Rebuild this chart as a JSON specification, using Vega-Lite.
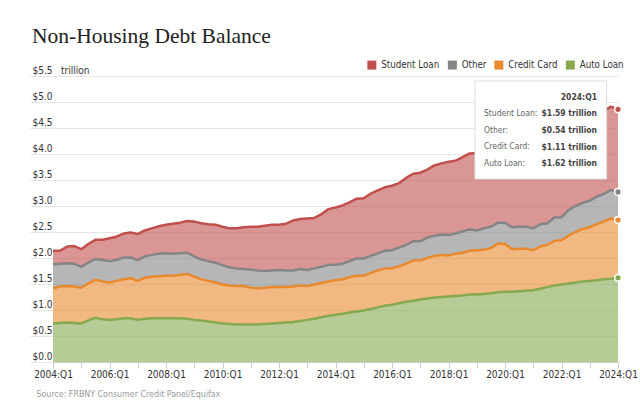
{
"$schema": "https://vega.github.io/schema/vega-lite/v6.json",
"autosize": {"type": "none"},
"width": 565,
"height": 286,
"padding": {"left": 53, "top": 76, "right": 22, "bottom": 46},
"background": "white",
"config": {"view": {"stroke": null}, "font": "DejaVu Sans Condensed, Liberation Sans, sans-serif"},
"title": {"text": "Non-Housing Debt Balance", "anchor": "start", "frame": "group", "font": "Liberation Serif", "fontSize": 21.5, "fontWeight": "normal", "color": "#222222", "baseline": "alphabetic", "dx": -21, "dy": 24, "offset": 20},
"layer": [
{
"data": {"values": [
{"date":"2004-01-01","series":"Auto Loan","value":0.74},{"date":"2004-01-01","series":"Credit Card","value":0.68},{"date":"2004-01-01","series":"Other","value":0.46},{"date":"2004-01-01","series":"Student Loan","value":0.26},
{"date":"2004-04-01","series":"Auto Loan","value":0.75},{"date":"2004-04-01","series":"Credit Card","value":0.70},{"date":"2004-04-01","series":"Other","value":0.44},{"date":"2004-04-01","series":"Student Loan","value":0.25},
{"date":"2004-07-01","series":"Auto Loan","value":0.76},{"date":"2004-07-01","series":"Credit Card","value":0.70},{"date":"2004-07-01","series":"Other","value":0.44},{"date":"2004-07-01","series":"Student Loan","value":0.32},
{"date":"2004-10-01","series":"Auto Loan","value":0.75},{"date":"2004-10-01","series":"Credit Card","value":0.70},{"date":"2004-10-01","series":"Other","value":0.44},{"date":"2004-10-01","series":"Student Loan","value":0.34},
{"date":"2005-01-01","series":"Auto Loan","value":0.74},{"date":"2005-01-01","series":"Credit Card","value":0.69},{"date":"2005-01-01","series":"Other","value":0.40},{"date":"2005-01-01","series":"Student Loan","value":0.34},
{"date":"2005-04-01","series":"Auto Loan","value":0.80},{"date":"2005-04-01","series":"Credit Card","value":0.71},{"date":"2005-04-01","series":"Other","value":0.40},{"date":"2005-04-01","series":"Student Loan","value":0.36},
{"date":"2005-07-01","series":"Auto Loan","value":0.85},{"date":"2005-07-01","series":"Credit Card","value":0.73},{"date":"2005-07-01","series":"Other","value":0.40},{"date":"2005-07-01","series":"Student Loan","value":0.37},
{"date":"2005-10-01","series":"Auto Loan","value":0.82},{"date":"2005-10-01","series":"Credit Card","value":0.73},{"date":"2005-10-01","series":"Other","value":0.41},{"date":"2005-10-01","series":"Student Loan","value":0.39},
{"date":"2006-01-01","series":"Auto Loan","value":0.81},{"date":"2006-01-01","series":"Credit Card","value":0.72},{"date":"2006-01-01","series":"Other","value":0.41},{"date":"2006-01-01","series":"Student Loan","value":0.44},
{"date":"2006-04-01","series":"Auto Loan","value":0.82},{"date":"2006-04-01","series":"Credit Card","value":0.74},{"date":"2006-04-01","series":"Other","value":0.40},{"date":"2006-04-01","series":"Student Loan","value":0.45},
{"date":"2006-07-01","series":"Auto Loan","value":0.84},{"date":"2006-07-01","series":"Credit Card","value":0.75},{"date":"2006-07-01","series":"Other","value":0.42},{"date":"2006-07-01","series":"Student Loan","value":0.46},
{"date":"2006-10-01","series":"Auto Loan","value":0.84},{"date":"2006-10-01","series":"Credit Card","value":0.77},{"date":"2006-10-01","series":"Other","value":0.40},{"date":"2006-10-01","series":"Student Loan","value":0.48},
{"date":"2007-01-01","series":"Auto Loan","value":0.81},{"date":"2007-01-01","series":"Credit Card","value":0.75},{"date":"2007-01-01","series":"Other","value":0.40},{"date":"2007-01-01","series":"Student Loan","value":0.50},
{"date":"2007-04-01","series":"Auto Loan","value":0.83},{"date":"2007-04-01","series":"Credit Card","value":0.79},{"date":"2007-04-01","series":"Other","value":0.41},{"date":"2007-04-01","series":"Student Loan","value":0.50},
{"date":"2007-07-01","series":"Auto Loan","value":0.84},{"date":"2007-07-01","series":"Credit Card","value":0.80},{"date":"2007-07-01","series":"Other","value":0.42},{"date":"2007-07-01","series":"Student Loan","value":0.51},
{"date":"2007-10-01","series":"Auto Loan","value":0.84},{"date":"2007-10-01","series":"Credit Card","value":0.81},{"date":"2007-10-01","series":"Other","value":0.43},{"date":"2007-10-01","series":"Student Loan","value":0.53},
{"date":"2008-01-01","series":"Auto Loan","value":0.84},{"date":"2008-01-01","series":"Credit Card","value":0.82},{"date":"2008-01-01","series":"Other","value":0.43},{"date":"2008-01-01","series":"Student Loan","value":0.55},
{"date":"2008-04-01","series":"Auto Loan","value":0.84},{"date":"2008-04-01","series":"Credit Card","value":0.82},{"date":"2008-04-01","series":"Other","value":0.42},{"date":"2008-04-01","series":"Student Loan","value":0.58},
{"date":"2008-07-01","series":"Auto Loan","value":0.84},{"date":"2008-07-01","series":"Credit Card","value":0.84},{"date":"2008-07-01","series":"Other","value":0.41},{"date":"2008-07-01","series":"Student Loan","value":0.59},
{"date":"2008-10-01","series":"Auto Loan","value":0.83},{"date":"2008-10-01","series":"Credit Card","value":0.86},{"date":"2008-10-01","series":"Other","value":0.41},{"date":"2008-10-01","series":"Student Loan","value":0.61},
{"date":"2009-01-01","series":"Auto Loan","value":0.81},{"date":"2009-01-01","series":"Credit Card","value":0.83},{"date":"2009-01-01","series":"Other","value":0.39},{"date":"2009-01-01","series":"Student Loan","value":0.67},
{"date":"2009-04-01","series":"Auto Loan","value":0.80},{"date":"2009-04-01","series":"Credit Card","value":0.79},{"date":"2009-04-01","series":"Other","value":0.38},{"date":"2009-04-01","series":"Student Loan","value":0.70},
{"date":"2009-07-01","series":"Auto Loan","value":0.78},{"date":"2009-07-01","series":"Credit Card","value":0.78},{"date":"2009-07-01","series":"Other","value":0.38},{"date":"2009-07-01","series":"Student Loan","value":0.71},
{"date":"2009-10-01","series":"Auto Loan","value":0.76},{"date":"2009-10-01","series":"Credit Card","value":0.77},{"date":"2009-10-01","series":"Other","value":0.38},{"date":"2009-10-01","series":"Student Loan","value":0.73},
{"date":"2010-01-01","series":"Auto Loan","value":0.74},{"date":"2010-01-01","series":"Credit Card","value":0.75},{"date":"2010-01-01","series":"Other","value":0.37},{"date":"2010-01-01","series":"Student Loan","value":0.74},
{"date":"2010-04-01","series":"Auto Loan","value":0.73},{"date":"2010-04-01","series":"Credit Card","value":0.74},{"date":"2010-04-01","series":"Other","value":0.35},{"date":"2010-04-01","series":"Student Loan","value":0.75},
{"date":"2010-07-01","series":"Auto Loan","value":0.72},{"date":"2010-07-01","series":"Credit Card","value":0.74},{"date":"2010-07-01","series":"Other","value":0.34},{"date":"2010-07-01","series":"Student Loan","value":0.77},
{"date":"2010-10-01","series":"Auto Loan","value":0.72},{"date":"2010-10-01","series":"Credit Card","value":0.74},{"date":"2010-10-01","series":"Other","value":0.33},{"date":"2010-10-01","series":"Student Loan","value":0.80},
{"date":"2011-01-01","series":"Auto Loan","value":0.72},{"date":"2011-01-01","series":"Credit Card","value":0.71},{"date":"2011-01-01","series":"Other","value":0.35},{"date":"2011-01-01","series":"Student Loan","value":0.82},
{"date":"2011-04-01","series":"Auto Loan","value":0.72},{"date":"2011-04-01","series":"Credit Card","value":0.70},{"date":"2011-04-01","series":"Other","value":0.34},{"date":"2011-04-01","series":"Student Loan","value":0.84},
{"date":"2011-07-01","series":"Auto Loan","value":0.73},{"date":"2011-07-01","series":"Credit Card","value":0.70},{"date":"2011-07-01","series":"Other","value":0.32},{"date":"2011-07-01","series":"Student Loan","value":0.87},
{"date":"2011-10-01","series":"Auto Loan","value":0.74},{"date":"2011-10-01","series":"Credit Card","value":0.70},{"date":"2011-10-01","series":"Other","value":0.32},{"date":"2011-10-01","series":"Student Loan","value":0.88},
{"date":"2012-01-01","series":"Auto Loan","value":0.75},{"date":"2012-01-01","series":"Credit Card","value":0.69},{"date":"2012-01-01","series":"Other","value":0.33},{"date":"2012-01-01","series":"Student Loan","value":0.87},
{"date":"2012-04-01","series":"Auto Loan","value":0.76},{"date":"2012-04-01","series":"Credit Card","value":0.68},{"date":"2012-04-01","series":"Other","value":0.32},{"date":"2012-04-01","series":"Student Loan","value":0.90},
{"date":"2012-07-01","series":"Auto Loan","value":0.77},{"date":"2012-07-01","series":"Credit Card","value":0.68},{"date":"2012-07-01","series":"Other","value":0.31},{"date":"2012-07-01","series":"Student Loan","value":0.96},
{"date":"2012-10-01","series":"Auto Loan","value":0.79},{"date":"2012-10-01","series":"Credit Card","value":0.68},{"date":"2012-10-01","series":"Other","value":0.32},{"date":"2012-10-01","series":"Student Loan","value":0.96},
{"date":"2013-01-01","series":"Auto Loan","value":0.81},{"date":"2013-01-01","series":"Credit Card","value":0.65},{"date":"2013-01-01","series":"Other","value":0.31},{"date":"2013-01-01","series":"Student Loan","value":0.99},
{"date":"2013-04-01","series":"Auto Loan","value":0.83},{"date":"2013-04-01","series":"Credit Card","value":0.66},{"date":"2013-04-01","series":"Other","value":0.31},{"date":"2013-04-01","series":"Student Loan","value":0.97},
{"date":"2013-07-01","series":"Auto Loan","value":0.86},{"date":"2013-07-01","series":"Credit Card","value":0.66},{"date":"2013-07-01","series":"Other","value":0.31},{"date":"2013-07-01","series":"Student Loan","value":1.01},
{"date":"2013-10-01","series":"Auto Loan","value":0.89},{"date":"2013-10-01","series":"Credit Card","value":0.66},{"date":"2013-10-01","series":"Other","value":0.32},{"date":"2013-10-01","series":"Student Loan","value":1.07},
{"date":"2014-01-01","series":"Auto Loan","value":0.91},{"date":"2014-01-01","series":"Credit Card","value":0.66},{"date":"2014-01-01","series":"Other","value":0.30},{"date":"2014-01-01","series":"Student Loan","value":1.10},
{"date":"2014-04-01","series":"Auto Loan","value":0.93},{"date":"2014-04-01","series":"Credit Card","value":0.66},{"date":"2014-04-01","series":"Other","value":0.30},{"date":"2014-04-01","series":"Student Loan","value":1.12},
{"date":"2014-07-01","series":"Auto Loan","value":0.95},{"date":"2014-07-01","series":"Credit Card","value":0.68},{"date":"2014-07-01","series":"Other","value":0.31},{"date":"2014-07-01","series":"Student Loan","value":1.13},
{"date":"2014-10-01","series":"Auto Loan","value":0.97},{"date":"2014-10-01","series":"Credit Card","value":0.69},{"date":"2014-10-01","series":"Other","value":0.33},{"date":"2014-10-01","series":"Student Loan","value":1.15},
{"date":"2015-01-01","series":"Auto Loan","value":0.99},{"date":"2015-01-01","series":"Credit Card","value":0.67},{"date":"2015-01-01","series":"Other","value":0.33},{"date":"2015-01-01","series":"Student Loan","value":1.16},
{"date":"2015-04-01","series":"Auto Loan","value":1.02},{"date":"2015-04-01","series":"Credit Card","value":0.69},{"date":"2015-04-01","series":"Other","value":0.33},{"date":"2015-04-01","series":"Student Loan","value":1.20},
{"date":"2015-07-01","series":"Auto Loan","value":1.05},{"date":"2015-07-01","series":"Credit Card","value":0.71},{"date":"2015-07-01","series":"Other","value":0.33},{"date":"2015-07-01","series":"Student Loan","value":1.21},
{"date":"2015-10-01","series":"Auto Loan","value":1.08},{"date":"2015-10-01","series":"Credit Card","value":0.72},{"date":"2015-10-01","series":"Other","value":0.34},{"date":"2015-10-01","series":"Student Loan","value":1.22},
{"date":"2016-01-01","series":"Auto Loan","value":1.10},{"date":"2016-01-01","series":"Credit Card","value":0.70},{"date":"2016-01-01","series":"Other","value":0.35},{"date":"2016-01-01","series":"Student Loan","value":1.24},
{"date":"2016-04-01","series":"Auto Loan","value":1.13},{"date":"2016-04-01","series":"Credit Card","value":0.71},{"date":"2016-04-01","series":"Other","value":0.36},{"date":"2016-04-01","series":"Student Loan","value":1.24},
{"date":"2016-07-01","series":"Auto Loan","value":1.16},{"date":"2016-07-01","series":"Credit Card","value":0.73},{"date":"2016-07-01","series":"Other","value":0.36},{"date":"2016-07-01","series":"Student Loan","value":1.29},
{"date":"2016-10-01","series":"Auto Loan","value":1.18},{"date":"2016-10-01","series":"Credit Card","value":0.77},{"date":"2016-10-01","series":"Other","value":0.37},{"date":"2016-10-01","series":"Student Loan","value":1.30},
{"date":"2017-01-01","series":"Auto Loan","value":1.20},{"date":"2017-01-01","series":"Credit Card","value":0.75},{"date":"2017-01-01","series":"Other","value":0.37},{"date":"2017-01-01","series":"Student Loan","value":1.32},
{"date":"2017-04-01","series":"Auto Loan","value":1.22},{"date":"2017-04-01","series":"Credit Card","value":0.78},{"date":"2017-04-01","series":"Other","value":0.39},{"date":"2017-04-01","series":"Student Loan","value":1.31},
{"date":"2017-07-01","series":"Auto Loan","value":1.24},{"date":"2017-07-01","series":"Credit Card","value":0.80},{"date":"2017-07-01","series":"Other","value":0.39},{"date":"2017-07-01","series":"Student Loan","value":1.35},
{"date":"2017-10-01","series":"Auto Loan","value":1.25},{"date":"2017-10-01","series":"Credit Card","value":0.81},{"date":"2017-10-01","series":"Other","value":0.39},{"date":"2017-10-01","series":"Student Loan","value":1.37},
{"date":"2018-01-01","series":"Auto Loan","value":1.26},{"date":"2018-01-01","series":"Credit Card","value":0.79},{"date":"2018-01-01","series":"Other","value":0.39},{"date":"2018-01-01","series":"Student Loan","value":1.41},
{"date":"2018-04-01","series":"Auto Loan","value":1.27},{"date":"2018-04-01","series":"Credit Card","value":0.81},{"date":"2018-04-01","series":"Other","value":0.39},{"date":"2018-04-01","series":"Student Loan","value":1.40},
{"date":"2018-07-01","series":"Auto Loan","value":1.28},{"date":"2018-07-01","series":"Credit Card","value":0.82},{"date":"2018-07-01","series":"Other","value":0.41},{"date":"2018-07-01","series":"Student Loan","value":1.43},
{"date":"2018-10-01","series":"Auto Loan","value":1.30},{"date":"2018-10-01","series":"Credit Card","value":0.84},{"date":"2018-10-01","series":"Other","value":0.41},{"date":"2018-10-01","series":"Student Loan","value":1.46},
{"date":"2019-01-01","series":"Auto Loan","value":1.30},{"date":"2019-01-01","series":"Credit Card","value":0.85},{"date":"2019-01-01","series":"Other","value":0.38},{"date":"2019-01-01","series":"Student Loan","value":1.49},
{"date":"2019-04-01","series":"Auto Loan","value":1.31},{"date":"2019-04-01","series":"Credit Card","value":0.85},{"date":"2019-04-01","series":"Other","value":0.41},{"date":"2019-04-01","series":"Student Loan","value":1.48},
{"date":"2019-07-01","series":"Auto Loan","value":1.32},{"date":"2019-07-01","series":"Credit Card","value":0.87},{"date":"2019-07-01","series":"Other","value":0.41},{"date":"2019-07-01","series":"Student Loan","value":1.50},
{"date":"2019-10-01","series":"Auto Loan","value":1.34},{"date":"2019-10-01","series":"Credit Card","value":0.94},{"date":"2019-10-01","series":"Other","value":0.40},{"date":"2019-10-01","series":"Student Loan","value":1.51},
{"date":"2020-01-01","series":"Auto Loan","value":1.35},{"date":"2020-01-01","series":"Credit Card","value":0.92},{"date":"2020-01-01","series":"Other","value":0.41},{"date":"2020-01-01","series":"Student Loan","value":1.54},
{"date":"2020-04-01","series":"Auto Loan","value":1.35},{"date":"2020-04-01","series":"Credit Card","value":0.82},{"date":"2020-04-01","series":"Other","value":0.42},{"date":"2020-04-01","series":"Student Loan","value":1.54},
{"date":"2020-07-01","series":"Auto Loan","value":1.36},{"date":"2020-07-01","series":"Credit Card","value":0.82},{"date":"2020-07-01","series":"Other","value":0.42},{"date":"2020-07-01","series":"Student Loan","value":1.54},
{"date":"2020-10-01","series":"Auto Loan","value":1.37},{"date":"2020-10-01","series":"Credit Card","value":0.81},{"date":"2020-10-01","series":"Other","value":0.42},{"date":"2020-10-01","series":"Student Loan","value":1.56},
{"date":"2021-01-01","series":"Auto Loan","value":1.38},{"date":"2021-01-01","series":"Credit Card","value":0.77},{"date":"2021-01-01","series":"Other","value":0.42},{"date":"2021-01-01","series":"Student Loan","value":1.58},
{"date":"2021-04-01","series":"Auto Loan","value":1.41},{"date":"2021-04-01","series":"Credit Card","value":0.81},{"date":"2021-04-01","series":"Other","value":0.43},{"date":"2021-04-01","series":"Student Loan","value":1.57},
{"date":"2021-07-01","series":"Auto Loan","value":1.44},{"date":"2021-07-01","series":"Credit Card","value":0.81},{"date":"2021-07-01","series":"Other","value":0.42},{"date":"2021-07-01","series":"Student Loan","value":1.58},
{"date":"2021-10-01","series":"Auto Loan","value":1.47},{"date":"2021-10-01","series":"Credit Card","value":0.86},{"date":"2021-10-01","series":"Other","value":0.45},{"date":"2021-10-01","series":"Student Loan","value":1.58},
{"date":"2022-01-01","series":"Auto Loan","value":1.49},{"date":"2022-01-01","series":"Credit Card","value":0.85},{"date":"2022-01-01","series":"Other","value":0.44},{"date":"2022-01-01","series":"Student Loan","value":1.59},
{"date":"2022-04-01","series":"Auto Loan","value":1.51},{"date":"2022-04-01","series":"Credit Card","value":0.92},{"date":"2022-04-01","series":"Other","value":0.49},{"date":"2022-04-01","series":"Student Loan","value":1.59},
{"date":"2022-07-01","series":"Auto Loan","value":1.53},{"date":"2022-07-01","series":"Credit Card","value":0.97},{"date":"2022-07-01","series":"Other","value":0.50},{"date":"2022-07-01","series":"Student Loan","value":1.57},
{"date":"2022-10-01","series":"Auto Loan","value":1.55},{"date":"2022-10-01","series":"Credit Card","value":1.01},{"date":"2022-10-01","series":"Other","value":0.50},{"date":"2022-10-01","series":"Student Loan","value":1.60},
{"date":"2023-01-01","series":"Auto Loan","value":1.56},{"date":"2023-01-01","series":"Credit Card","value":1.03},{"date":"2023-01-01","series":"Other","value":0.51},{"date":"2023-01-01","series":"Student Loan","value":1.60},
{"date":"2023-04-01","series":"Auto Loan","value":1.57},{"date":"2023-04-01","series":"Credit Card","value":1.08},{"date":"2023-04-01","series":"Other","value":0.53},{"date":"2023-04-01","series":"Student Loan","value":1.57},
{"date":"2023-07-01","series":"Auto Loan","value":1.59},{"date":"2023-07-01","series":"Credit Card","value":1.11},{"date":"2023-07-01","series":"Other","value":0.53},{"date":"2023-07-01","series":"Student Loan","value":1.60},
{"date":"2023-10-01","series":"Auto Loan","value":1.60},{"date":"2023-10-01","series":"Credit Card","value":1.16},{"date":"2023-10-01","series":"Other","value":0.55},{"date":"2023-10-01","series":"Student Loan","value":1.60},
{"date":"2024-01-01","series":"Auto Loan","value":1.62},{"date":"2024-01-01","series":"Credit Card","value":1.11},{"date":"2024-01-01","series":"Other","value":0.54},{"date":"2024-01-01","series":"Student Loan","value":1.59}
]},
"transform": [
{"stack": "value", "groupby": ["date"], "sort": [{"field": "series", "order": "ascending"}], "as": ["v0", "v1"]}
],
"layer": [
{
"mark": {"type": "area", "opacity": 0.6},
"encoding": {
"x": {"field": "date", "type": "temporal", "scale": {"type": "utc", "nice": false},
 "axis": {"title": "Source: FRBNY Consumer Credit Panel/Equifax", "titleFontSize": 8.8, "titleFontWeight": "normal", "titleColor": "#999999", "titleAnchor": "start", "titleAlign": "left", "titleX": -17, "titleY": 34, "titleBaseline": "alphabetic",
  "tickCount": {"interval": "year", "step": 1}, "labelExpr": "utcyear(datum.value) % 2 === 0 ? utcFormat(datum.value, '%Y') + ':Q1' : ''",
  "tickSize": 6, "tickColor": "#cccccc", "domainColor": "#cccccc", "grid": false, "labelFontSize": 10, "labelColor": "#333333", "labelPadding": 1, "labelOverlap": false, "labelFlush": false, "labelBound": false}},
"y": {"field": "v1", "type": "quantitative", "scale": {"domain": [0, 5.5], "nice": false},
 "axis": {"title": null, "values": [0, 0.5, 1, 1.5, 2, 2.5, 3, 3.5, 4, 4.5, 5, 5.5], "domain": false, "grid": true, "gridColor": "#e6e6e6", "tickColor": "#e6e6e6", "tickSize": 23, "labelAlign": "left", "labelPadding": -2, "labelBaseline": "alphabetic", "labelOffset": -3, "labelFontSize": 10, "labelColor": "#333333", "labelOverlap": false, "labelBound": false, "labelFlush": false,
  "labelExpr": "datum.value === 5.5 ? '$5.5\u00a0\u00a0\u00a0trillion' : '$' + format(datum.value, '.1f')"}},
"y2": {"field": "v0"},
"color": {"field": "series", "type": "nominal",
 "scale": {"domain": ["Student Loan", "Other", "Credit Card", "Auto Loan"], "range": ["#c0504d", "#858585", "#e8892e", "#86a84e"]},
 "legend": {"title": null, "orient": "none", "direction": "horizontal", "legendX": 314, "legendY": -16, "symbolType": "square", "symbolSize": 81, "symbolOpacity": 1, "symbolStrokeWidth": 0, "labelFontSize": 9.7, "labelColor": "#333333", "columnPadding": 7.5, "labelOffset": 4.5, "padding": 0}}
}
},
{
"mark": {"type": "line", "strokeWidth": 2.5, "strokeJoin": "round"},
"encoding": {
"x": {"field": "date", "type": "temporal"},
"y": {"field": "v1", "type": "quantitative",
 "axis": {"title": null, "values": [0, 0.5, 1, 1.5, 2, 2.5, 3, 3.5, 4, 4.5, 5, 5.5], "domain": false, "grid": true, "gridColor": "#e6e6e6", "tickColor": "#e6e6e6", "tickSize": 23, "labelAlign": "left", "labelPadding": -2, "labelBaseline": "alphabetic", "labelOffset": -3, "labelFontSize": 10, "labelColor": "#333333", "labelOverlap": false, "labelBound": false, "labelFlush": false,
  "labelExpr": "datum.value === 5.5 ? '$5.5\u00a0\u00a0\u00a0trillion' : '$' + format(datum.value, '.1f')"}},
"color": {"field": "series", "type": "nominal", "legend": null}
}
},
{
"transform": [{"filter": "utcyear(datum.date) === 2024"}],
"mark": {"type": "point", "filled": true, "size": 45, "stroke": "white", "strokeWidth": 1.5, "opacity": 1},
"encoding": {
"x": {"field": "date", "type": "temporal"},
"y": {"field": "v1", "type": "quantitative",
 "axis": {"title": null, "values": [0, 0.5, 1, 1.5, 2, 2.5, 3, 3.5, 4, 4.5, 5, 5.5], "domain": false, "grid": true, "gridColor": "#e6e6e6", "tickColor": "#e6e6e6", "tickSize": 23, "labelAlign": "left", "labelPadding": -2, "labelBaseline": "alphabetic", "labelOffset": -3, "labelFontSize": 10, "labelColor": "#333333", "labelOverlap": false, "labelBound": false, "labelFlush": false,
  "labelExpr": "datum.value === 5.5 ? '$5.5\u00a0\u00a0\u00a0trillion' : '$' + format(datum.value, '.1f')"}},
"color": {"field": "series", "type": "nominal", "legend": null}
}
}
]
},
{
"data": {"values": [{"box": "tooltip"}]},
"mark": {"type": "rect", "fill": "#000000", "opacity": 0.12, "xOffset": 2, "yOffset": 2},
"encoding": {
"x": {"datum": {"year": 2018, "month": 12, "date": 8, "utc": true}, "type": "temporal"},
"x2": {"datum": {"year": 2023, "month": 8, "date": 7, "utc": true}},
"y": {"datum": 5.404, "type": "quantitative",
 "axis": {"title": null, "values": [0, 0.5, 1, 1.5, 2, 2.5, 3, 3.5, 4, 4.5, 5, 5.5], "domain": false, "grid": true, "gridColor": "#e6e6e6", "tickColor": "#e6e6e6", "tickSize": 23, "labelAlign": "left", "labelPadding": -2, "labelBaseline": "alphabetic", "labelOffset": -3, "labelFontSize": 10, "labelColor": "#333333", "labelOverlap": false, "labelBound": false, "labelFlush": false,
  "labelExpr": "datum.value === 5.5 ? '$5.5\u00a0\u00a0\u00a0trillion' : '$' + format(datum.value, '.1f')"}},
"y2": {"datum": 3.519}
}
},
{
"data": {"values": [{"box": "tooltip"}]},
"mark": {"type": "rect", "fill": "white", "stroke": "#dddddd", "strokeWidth": 1},
"encoding": {
"x": {"datum": {"year": 2018, "month": 12, "date": 8, "utc": true}, "type": "temporal"},
"x2": {"datum": {"year": 2023, "month": 8, "date": 7, "utc": true}},
"y": {"datum": 5.404, "type": "quantitative",
 "axis": {"title": null, "values": [0, 0.5, 1, 1.5, 2, 2.5, 3, 3.5, 4, 4.5, 5, 5.5], "domain": false, "grid": true, "gridColor": "#e6e6e6", "tickColor": "#e6e6e6", "tickSize": 23, "labelAlign": "left", "labelPadding": -2, "labelBaseline": "alphabetic", "labelOffset": -3, "labelFontSize": 10, "labelColor": "#333333", "labelOverlap": false, "labelBound": false, "labelFlush": false,
  "labelExpr": "datum.value === 5.5 ? '$5.5\u00a0\u00a0\u00a0trillion' : '$' + format(datum.value, '.1f')"}},
"y2": {"datum": 3.519}
}
},
{
"data": {"values": [{"box": "tooltip"}]},
"mark": {"type": "text", "text": ["2024:Q1", "$1.59 trillion", "$0.54 trillion", "$1.11 trillion", "$1.62 trillion"], "align": "right", "baseline": "middle", "lineHeight": 16.65, "fontSize": 8.5, "fontWeight": "bold", "color": "#444444"},
"encoding": {
"x": {"datum": {"year": 2023, "month": 4, "date": 4, "utc": true}, "type": "temporal"},
"y": {"datum": 5.102, "type": "quantitative",
 "axis": {"title": null, "values": [0, 0.5, 1, 1.5, 2, 2.5, 3, 3.5, 4, 4.5, 5, 5.5], "domain": false, "grid": true, "gridColor": "#e6e6e6", "tickColor": "#e6e6e6", "tickSize": 23, "labelAlign": "left", "labelPadding": -2, "labelBaseline": "alphabetic", "labelOffset": -3, "labelFontSize": 10, "labelColor": "#333333", "labelOverlap": false, "labelBound": false, "labelFlush": false,
  "labelExpr": "datum.value === 5.5 ? '$5.5\u00a0\u00a0\u00a0trillion' : '$' + format(datum.value, '.1f')"}}
}
},
{
"data": {"values": [{"box": "tooltip"}]},
"mark": {"type": "text", "text": ["Student Loan:", "Other:", "Credit Card:", "Auto Loan:"], "align": "left", "baseline": "middle", "lineHeight": 16.8, "fontSize": 8.5, "color": "#666666"},
"encoding": {
"x": {"datum": {"year": 2019, "month": 4, "date": 4, "utc": true}, "type": "temporal"},
"y": {"datum": 4.794, "type": "quantitative",
 "axis": {"title": null, "values": [0, 0.5, 1, 1.5, 2, 2.5, 3, 3.5, 4, 4.5, 5, 5.5], "domain": false, "grid": true, "gridColor": "#e6e6e6", "tickColor": "#e6e6e6", "tickSize": 23, "labelAlign": "left", "labelPadding": -2, "labelBaseline": "alphabetic", "labelOffset": -3, "labelFontSize": 10, "labelColor": "#333333", "labelOverlap": false, "labelBound": false, "labelFlush": false,
  "labelExpr": "datum.value === 5.5 ? '$5.5\u00a0\u00a0\u00a0trillion' : '$' + format(datum.value, '.1f')"}}
}
}
]
}
